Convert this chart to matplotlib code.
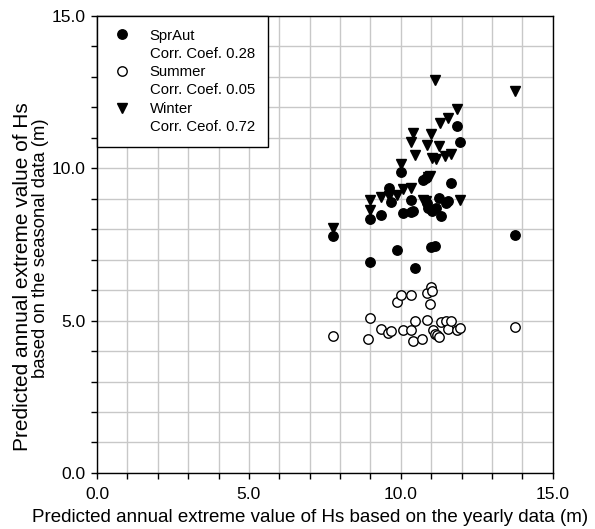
import matplotlib
matplotlib.use("Agg")
import matplotlib.pyplot as plt
from matplotlib.lines import Line2D
from matplotlib.ticker import MultipleLocator, FormatStrFormatter

plt.rcParams['font.family'] = ['Liberation Sans', 'DejaVu Sans']

# Spring/Autumn series
spr_x = [7.78, 8.97, 8.97, 9.35, 9.61, 9.68, 9.86, 10.00, 10.07, 10.35, 10.35, 10.41,
         10.47, 10.72, 10.84, 10.85, 10.90, 10.99, 11.01, 11.13, 11.17, 11.27, 11.32,
         11.48, 11.55, 11.65, 11.86, 11.95, 13.77]
spr_y = [7.78, 8.33, 6.93, 8.48, 9.34, 8.88, 7.32, 9.87, 8.53, 8.96, 8.56, 8.61,
         6.72, 9.62, 9.69, 8.86, 8.70, 7.43, 8.59, 7.45, 8.69, 9.01, 8.44,
         8.86, 8.93, 9.53, 11.38, 10.87, 7.81]

# Summer series
sum_x = [7.77, 8.93, 8.97, 9.34, 9.59, 9.69, 9.86, 9.99, 10.07, 10.32, 10.35, 10.40,
         10.47, 10.70, 10.86, 10.87, 10.95, 10.99, 11.01, 11.05, 11.11, 11.18, 11.26,
         11.31, 11.48, 11.54, 11.65, 11.86, 11.95, 13.77]
sum_y = [4.51, 4.39, 5.09, 4.72, 4.60, 4.67, 5.61, 5.85, 4.70, 4.68, 5.83, 4.32,
         4.99, 4.39, 5.91, 5.01, 5.54, 6.11, 5.98, 4.68, 4.57, 4.53, 4.47,
         4.95, 4.98, 4.71, 4.99, 4.70, 4.74, 4.78]

# Winter series
win_x = [7.78, 8.97, 8.97, 9.35, 9.61, 9.86, 10.00, 10.07, 10.35, 10.32, 10.41, 10.47,
         10.72, 10.84, 10.85, 10.90, 10.97, 10.98, 11.01, 11.12, 11.17, 11.26, 11.29,
         11.45, 11.55, 11.65, 11.86, 11.95, 13.77]
win_y = [8.05, 8.97, 8.63, 9.05, 9.08, 9.12, 10.15, 9.33, 9.36, 10.86, 11.15, 10.45,
         8.96, 8.93, 10.75, 9.72, 9.76, 11.12, 10.33, 12.90, 10.30, 10.74, 11.50,
         10.40, 11.64, 10.48, 11.93, 8.95, 12.55]

labels = ["SprAut", "Corr. Coef. 0.28", "Summer", "Corr. Coef. 0.05",
          "Winter", "Corr. Ceof. 0.72"]

fig = plt.figure(figsize=(5.95, 5.29), dpi=100)
ax = fig.add_axes([0.163, 0.106, 0.766, 0.864])

ms = 6.8
ax.plot(spr_x, spr_y, linestyle='none', marker='o', ms=ms, mfc='black', mec='black', zorder=3)
ax.plot(sum_x, sum_y, linestyle='none', marker='o', ms=ms, mfc='white', mec='black',
        mew=1.0, zorder=3)
ax.plot(win_x, win_y, linestyle='none', marker='v', ms=ms + 0.6, mfc='black', mec='black', zorder=3)

ax.set_xlim(0, 15)
ax.set_ylim(0, 15)
ax.xaxis.set_major_locator(MultipleLocator(5))
ax.yaxis.set_major_locator(MultipleLocator(5))
ax.xaxis.set_minor_locator(MultipleLocator(1))
ax.yaxis.set_minor_locator(MultipleLocator(1))
ax.xaxis.set_major_formatter(FormatStrFormatter('%.1f'))
ax.yaxis.set_major_formatter(FormatStrFormatter('%.1f'))
ax.grid(True, which='both', color='#c8c8c8', linewidth=1.0, zorder=0)
ax.set_axisbelow(True)
ax.tick_params(which='both', direction='out', length=4, width=1, colors='black',
               labelsize=12.6, top=False, right=False)
ax.tick_params(axis='x', pad=6)
ax.tick_params(axis='y', pad=4)
for s in ax.spines.values():
    s.set_linewidth(1.0)
    s.set_color('black')

ax.set_xlabel("Predicted annual extreme value of Hs based on the yearly data (m)",
              fontsize=13.5)
ax.xaxis.set_label_coords(0.467, -0.078)

# two-line y axis title
fig.text(0.037, 0.478, "Predicted annual extreme value of Hs", rotation=90,
         ha='center', va='center', fontsize=15.0)
fig.text(0.068, 0.531, "based on the seasonal data (m)", rotation=90,
         ha='center', va='center', fontsize=13.3)

blank = Line2D([], [], linestyle='none', marker=None)
handles = [
    Line2D([], [], linestyle='none', marker='o', ms=ms, mfc='black', mec='black'), blank,
    Line2D([], [], linestyle='none', marker='o', ms=ms, mfc='white', mec='black'), blank,
    Line2D([], [], linestyle='none', marker='v', ms=ms + 0.6, mfc='black', mec='black'), blank,
]
leg = ax.legend(handles, labels, loc='upper left', bbox_to_anchor=(0, 1),
                borderaxespad=0, fontsize=10.7, frameon=True, fancybox=False,
                edgecolor='black', framealpha=1, labelspacing=0.29,
                handlelength=1.7, handletextpad=1.0, borderpad=0.85)
leg.get_frame().set_linewidth(1.0)
leg.set_zorder(5)

fig.savefig("out.png", dpi=100)
